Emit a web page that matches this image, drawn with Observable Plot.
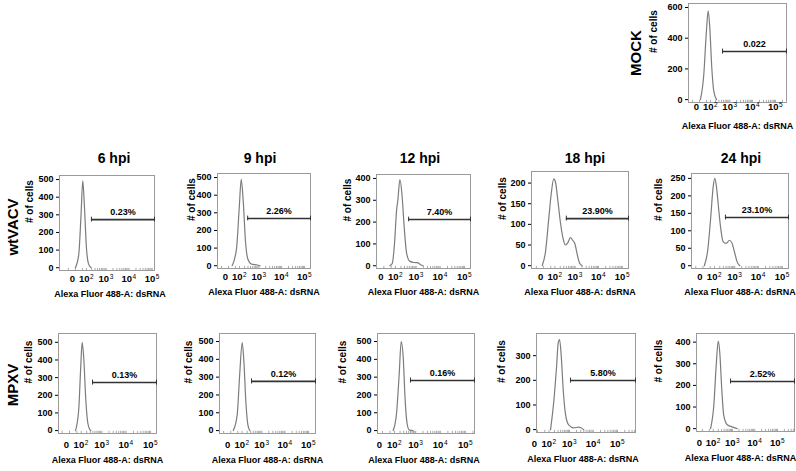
<!DOCTYPE html>
<html><head><meta charset="utf-8">
<script src="https://cdn.jsdelivr.net/npm/d3@7"></script>
<script src="https://cdn.jsdelivr.net/npm/@observablehq/plot@0.6"></script>
<style>
html,body{margin:0;padding:0;background:#fff;}
#fig{position:relative;width:796px;height:471px;overflow:hidden;background:#fff;font-family:Arial,"Liberation Sans",sans-serif;font-weight:bold;color:#000;}
.title{position:absolute;font-size:14px;font-weight:bold;transform:translate(-50%,-50%);white-space:nowrap;}
.row{position:absolute;font-size:15px;font-weight:bold;transform:translate(-50%,-50%) rotate(-90deg);white-space:nowrap;}
</style></head><body><div id="fig"></div>
<script>
// ---------- data ----------
const xTickValues = [0, 100, 1000, 10000, 100000];
const xTickBases = ["0", "10", "10", "10", "10"];
const xTickExponents = ["", "2", "3", "4", "5"];
const axisTitleX = "Alexa Fluor 488-A: dsRNA";
const axisTitleY = "# of cells";
const columnTitles = ["6 hpi", "9 hpi", "12 hpi", "18 hpi", "24 hpi"];
const rowTitles = ["MOCK", "wtVACV", "MPXV"];
const gateLabels = ["0.022", "0.23%", "2.26%", "7.40%", "23.90%", "23.10%", "0.13%", "0.12%", "0.16%", "5.80%", "2.52%"];
const gateStarts = [450, 195, 290, 465, 400, 380, 385, 330, 600, 1100, 810];

const mockIntensity = [5, 27, 48, 69, 90, 121, 159, 224];
const mockCells     = [0, 164, 425, 578, 469, 207, 55, 0];

const wt6Intensity = [0, 20, 38, 54, 73, 99, 137, 188];
const wt6Cells     = [0, 76, 305, 492, 343, 115, 19, 0];
const wt9Intensity = [22, 61, 96, 128, 168, 224, 295, 434, 832, 1117];
const wt9Cells     = [0, 96, 327, 490, 365, 135, 38, 10, 4, 0];
const wt12Intensity = [38, 60, 86, 116, 137, 176, 224, 281, 375, 529, 797, 1117, 1541, 1970];
const wt12Cells     = [0, 10, 100, 255, 300, 395, 330, 195, 58, 20, 15, 14, 5, 0];
const wt18Intensity = [-7, 10, 32, 57, 83, 108, 147, 205, 281, 362, 464, 616, 781, 954, 1214, 1573, 2010];
const wt18Cells     = [0, 33, 112, 179, 210, 202, 159, 104, 65, 50, 55, 68, 61, 55, 29, 6, 0];
const wt24Intensity = [7, 29, 53, 83, 105, 132, 170, 218, 295, 410, 584, 764, 964, 1266, 1639];
const wt24Cells     = [0, 45, 131, 226, 250, 226, 169, 112, 69, 64, 73, 64, 40, 11, 0];

const mp6Intensity = [38, 69, 94, 114, 141, 181, 229, 288, 320];
const mp6Cells     = [0, 118, 363, 500, 410, 175, 43, 5, 0];
const mp9Intensity = [14, 44, 70, 103, 130, 168, 216, 271];
const mp9Cells     = [0, 90, 316, 494, 391, 165, 34, 0];
const mp12Intensity = [83, 130, 181, 227, 284, 350, 429, 529, 772];
const mp12Cells     = [0, 93, 317, 500, 410, 168, 37, 4, 0];
const mp18Intensity = [123, 186, 256, 309, 358, 429, 529, 672, 935, 1541, 2500, 4022];
const mp18Cells     = [0, 116, 255, 353, 365, 297, 158, 60, 18, 7, 10, 0];
const mp24Intensity = [64, 108, 151, 198, 241, 305, 384, 565, 964, 1639];
const mp24Cells     = [0, 106, 289, 405, 350, 182, 61, 18, 8, 0];

const yTicks500 = [0, 100, 200, 300, 400, 500];

// ---------- layout / scale configuration ----------
const C = 50; // symlog constant
const sl = v => Math.sign(v) * Math.log1p(Math.abs(v) / C);
const slInv = u => Math.sign(u) * C * Math.expm1(Math.abs(u));
const minorTicks = [-50, 0, 50].concat(...[100, 1000, 10000, 100000].map(d => [1,2,3,4,5,6,7,8,9].map(k => k * d)));

const panels = [
  {x: mockIntensity, y: mockCells, frame: [688, 3, 786, 102], xDomain: [-100, 300000], yTop: 626, yTicks: [0, 200, 400, 600], gateY: 313, yLabDx: -35, pad: 4, tDy: 26, tDx: 0},
  {x: wt6Intensity, y: wt6Cells, frame: [59, 175, 154, 270], xDomain: [-190, 125000], yTop: 523, yTicks: yTicks500, gateY: 273, yLabDx: -30, pad: 8, tDy: 26, tDx: 3},
  {x: wt9Intensity, y: wt9Cells, frame: [217, 173, 310, 268], xDomain: [-100, 180000], yTop: 523, yTicks: yTicks500, gateY: 268, yLabDx: -26, pad: 8, tDy: 26, tDx: 0},
  {x: wt12Intensity, y: wt12Cells, frame: [376, 174, 470, 268], xDomain: [-50, 175000], yTop: 418, yTicks: [0, 100, 200, 300, 400], gateY: 212, yLabDx: -29, pad: 8, tDy: 26, tDx: 0},
  {x: wt18Intensity, y: wt18Cells, frame: [531, 171, 628, 268], xDomain: [-110, 180000], yTop: 228, yTicks: [0, 50, 100, 150, 200], gateY: 114, yLabDx: -29, pad: 8, tDy: 26, tDx: 0},
  {x: wt24Intensity, y: wt24Cells, frame: [691, 173, 788, 268], xDomain: [-100, 180000], yTop: 264, yTicks: [0, 50, 100, 150, 200, 250], gateY: 138, yLabDx: -33, pad: 8, tDy: 26, tDx: 0},
  {x: mp6Intensity, y: mp6Cells, frame: [58, 333, 156, 433], xDomain: [-90, 175000], yTop: 550, yTicks: yTicks500, gateY: 272, yLabDx: -30, pad: 11, tDy: 29, tDx: 0},
  {x: mp9Intensity, y: mp9Cells, frame: [219, 333, 315, 433], xDomain: [-100, 197000], yTop: 545, yTicks: yTicks500, gateY: 276, yLabDx: -31, pad: 11, tDy: 29, tDx: 0},
  {x: mp12Intensity, y: mp12Cells, frame: [377, 333, 474, 433], xDomain: [-29, 229000], yTop: 545, yTicks: yTicks500, gateY: 281, yLabDx: -35, pad: 11, tDy: 29, tDx: -2},
  {x: mp18Intensity, y: mp18Cells, frame: [536, 333, 635, 432], xDomain: [-5, 555000], yTop: 390, yTicks: [0, 100, 200, 300], gateY: 199, yLabDx: -35, pad: 11, tDy: 29, tDx: -3},
  {x: mp24Intensity, y: mp24Cells, frame: [696, 333, 794, 431], xDomain: [-41, 560000], yTop: 440, yTicks: [0, 100, 200, 300, 400], gateY: 218, yLabDx: -38, pad: 11, tDy: 29, tDx: -5}
];

const fig = document.getElementById("fig");
const font = "Arial, 'Liberation Sans', sans-serif";
const tickData = xTickValues.map((v, j) => ({v, base: xTickBases[j], exp: xTickExponents[j]}));
const zeroTick = tickData.filter(d => d.exp === "");
const powTicks = tickData.filter(d => d.exp !== "");

panels.forEach((cfg, i) => {
  const [L, T, R, B] = cfg.frame;
  const mL = 44, mR = 4, mT = 4, mB = 38;
  const yLo = -0.03 * cfg.yTop;
  const span = cfg.yTop - yLo;
  const data = cfg.x.map((x, j) => ({x, y: cfg.y[j]}));
  const minor = minorTicks.filter(v => v >= cfg.xDomain[0] && v <= cfg.xDomain[1]);
  const gStart = gateStarts[i], gEnd = cfg.xDomain[1];
  const mid = slInv((sl(gStart) + sl(gEnd)) / 2);
  const cap = span * 0.025;
  const svg = Plot.plot({
    width: R - L + mL + mR, height: B - T + mT + mB,
    marginLeft: mL, marginRight: mR, marginTop: mT, marginBottom: mB,
    style: {fontFamily: font, fontSize: "9px", fontWeight: "bold", color: "#000", background: "transparent", overflow: "visible"},
    x: {type: "symlog", constant: C, domain: cfg.xDomain, axis: null},
    y: {domain: [yLo, cfg.yTop], ticks: cfg.yTicks, tickSize: 3, tickPadding: 3, label: null},
    marks: [
      Plot.frame({stroke: "#9a9a9a"}),
      Plot.ruleX(minor, {x: d => d, y1: yLo, y2: yLo + span * 0.022, stroke: "#aaa"}),
      Plot.line(data, {x: "x", y: "y", stroke: "#7c7c7c", strokeWidth: 1.2, curve: "monotone-x"}),
      Plot.ruleY([{a: gStart, b: gEnd, y: cfg.gateY}], {x1: "a", x2: "b", y: "y", stroke: "#333", strokeWidth: 1.6}),
      Plot.ruleX([gStart, gEnd], {x: d => d, y1: cfg.gateY - cap, y2: cfg.gateY + cap, stroke: "#333"}),
      Plot.text([{x: mid, y: cfg.gateY, t: gateLabels[i]}], {x: "x", y: "y", text: "t", dy: -7, fontSize: 9, fontWeight: "bold", fill: "#000"}),
      // x tick labels: "0", and base "10" with superscript exponent
      Plot.text(zeroTick, {x: "v", text: "base", frameAnchor: "bottom", dy: cfg.pad + 3, dx: -3, textAnchor: "middle", fontSize: 9.5, fontWeight: "bold", fill: "#000"}),
      Plot.text(powTicks, {x: "v", text: "base", frameAnchor: "bottom", dy: cfg.pad + 3, dx: 3, textAnchor: "end", fontSize: 9.5, fontWeight: "bold", fill: "#000"}),
      Plot.text(powTicks, {x: "v", text: "exp", frameAnchor: "bottom", dy: cfg.pad, dx: 3.5, textAnchor: "start", fontSize: 6.5, fontWeight: "normal", fill: "#000"}),
      Plot.text([axisTitleX], {frameAnchor: "bottom", dy: cfg.tDy, dx: cfg.tDx, fontSize: 9, fontWeight: "bold", fill: "#000"}),
      Plot.text([axisTitleY], {frameAnchor: "left", dx: cfg.yLabDx, rotate: -90, fontSize: 10, fontWeight: "bold", fill: "#000"})
    ]
  });
  svg.style.position = "absolute";
  svg.style.left = (L - mL) + "px";
  svg.style.top = (T - mT) + "px";
  fig.appendChild(svg);
});

// column titles
const titleX = [114, 260, 420, 585, 741];
columnTitles.forEach((t, i) => {
  const d = document.createElement("div");
  d.className = "title"; d.textContent = t;
  d.style.left = titleX[i] + "px"; d.style.top = "158px";
  fig.appendChild(d);
});
// row titles
const rowPos = [[635, 53], [12, 227], [12, 385]];
rowTitles.forEach((t, i) => {
  const d = document.createElement("div");
  d.className = "row"; d.textContent = t;
  d.style.left = rowPos[i][0] + "px"; d.style.top = rowPos[i][1] + "px";
  fig.appendChild(d);
});
</script></body></html>
